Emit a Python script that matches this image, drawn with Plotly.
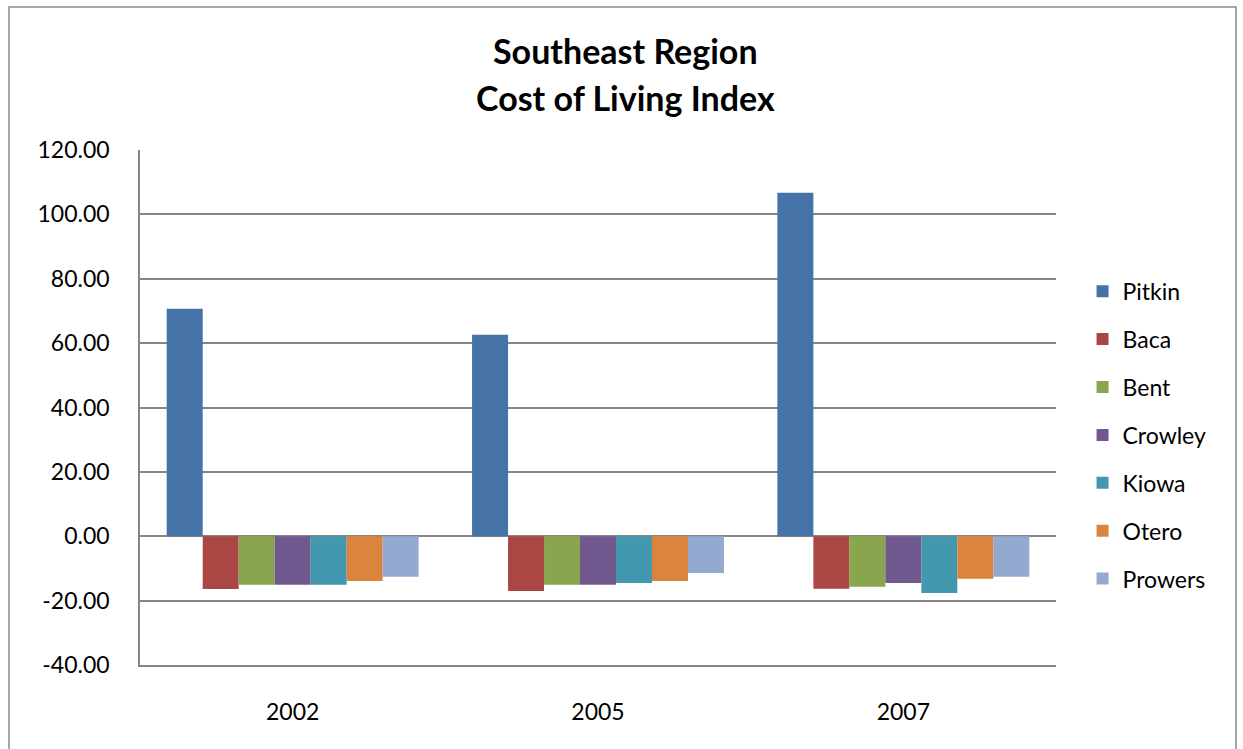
import plotly.graph_objects as go

years = ["2002", "2005", "2007"]
counties = ["Pitkin", "Baca", "Bent", "Crowley", "Kiowa", "Otero", "Prowers"]
pitkin = [70.7, 62.6, 106.7]
baca = [-16.4, -17.0, -16.3]
bent = [-15.1, -15.1, -15.7]
crowley = [-15.1, -15.1, -14.5]
kiowa = [-15.1, -14.5, -17.6]
otero = [-13.9, -13.9, -13.2]
prowers = [-12.6, -11.4, -12.6]

y_ticks = [-40, -20, 0, 20, 40, 60, 80, 100, 120]
y_labels = ["%.2f" % v for v in y_ticks]

series = [pitkin, baca, bent, crowley, kiowa, otero, prowers]
colors = ["#4572A7", "#AA4643", "#89A54E", "#71588F", "#4198AF", "#DB843D", "#93A9CF"]

FONT = "Lato"
GRID = "#868686"

L, T, W, H = 140, 150, 916, 515

fig = go.Figure()
for name, vals, col in zip(counties, series, colors):
    fig.add_trace(go.Bar(
        x=years, y=vals, name=name, legendgroup=name,
        marker=dict(color=col, line=dict(width=0)),
    ))

fig.update_layout(
    width=1243, height=749,
    margin=dict(l=L, r=1243 - L - W, t=T, b=749 - T - H),
    paper_bgcolor="white", plot_bgcolor="white",
    barmode="group", bargap=0.175, bargroupgap=0,
    font=dict(family=FONT, size=23, color="black"),
    showlegend=True,
    legend=dict(
        x=1.029, y=0.7675, xanchor="left", yanchor="top",
        font=dict(size=23), tracegroupgap=15,
        itemwidth=30, bgcolor="rgba(0,0,0,0)",
    ),
    xaxis=dict(showgrid=False, showline=True, linecolor=GRID, linewidth=1.5,
               ticks="", ticklabelstandoff=26),
    yaxis=dict(
        range=[-40, 120], tickvals=y_ticks, ticktext=y_labels,
        showgrid=True, gridcolor=GRID, gridwidth=1.5,
        zeroline=True, zerolinecolor=GRID, zerolinewidth=1.5,
        showline=True, linecolor=GRID, linewidth=1.5,
        ticks="", ticklabelstandoff=24,
    ),
    shapes=[dict(
        type="rect", xref="paper", yref="paper",
        x0=(9 - L) / W, x1=(1236 - L) / W,
        y0=-0.2, y1=(T + H - 7) / H,
        line=dict(color="#8a8a8a", width=1.5),
    )],
    annotations=[
        dict(text="<b>Southeast Region</b>", xref="paper", yref="paper",
             x=(625 - L) / W, y=(T + H - 50) / H, showarrow=False,
             font=dict(size=34, family=FONT), xanchor="center", yanchor="middle"),
        dict(text="<b>Cost of Living Index</b>", xref="paper", yref="paper",
             x=(625 - L) / W, y=(T + H - 97) / H, showarrow=False,
             font=dict(size=34, family=FONT), xanchor="center", yanchor="middle"),
    ],
)

# drop the default body margin so the figure sits at the page origin
fig.write_html(
    "out.html",
    config={"displayModeBar": False},
    post_script="document.body.style.margin='0';document.body.style.overflow='hidden';",
)
